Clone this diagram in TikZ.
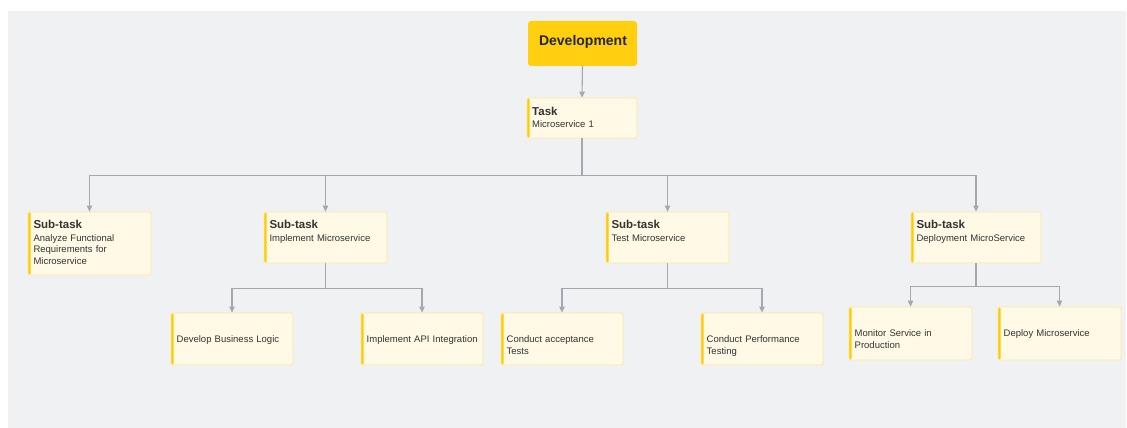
\documentclass[tikz,border=0pt]{standalone}
\usepackage{fontspec}
\setmainfont{Liberation Sans}
\usetikzlibrary{arrows.meta}

\definecolor{pagebg}{HTML}{F0F1F3}
\definecolor{gold}{HTML}{FFCF10}
\definecolor{cardfill}{HTML}{FFF9E6}
\definecolor{cardedge}{HTML}{FBE7A1}
\definecolor{cardbar}{HTML}{FFCC00}
\definecolor{wire}{HTML}{A4A8B1}
\definecolor{ink}{HTML}{333333}

\tikzset{
  card/.style={draw=cardedge, fill=cardfill, line width=0.8pt, rounded corners=1.5pt,
    inner sep=0pt,
    path picture={\fill[cardbar] (path picture bounding box.north west)
      rectangle ([xshift=2.6pt]path picture bounding box.south west);}},
  headcard/.style={fill=gold, rounded corners=3pt, inner sep=0pt},
  ttl/.style={anchor=base west, inner sep=0pt, text=ink,
    font=\fontsize{11.5}{13}\selectfont\bfseries},
  body/.style={anchor=base west, inner sep=0pt, text=ink, align=left,
    text width=120pt, font=\fontsize{9.5}{11.7}\selectfont},
  conn/.style={draw=wire, line width=1.1pt,
    -{Triangle[width=5.5pt,length=6pt]}},
  link/.style={draw=wire, line width=1.1pt},
}

% box from (x1,y1) to (x2,y2), y measured downwards
\newcommand\cardat[6][card]{%
  \node[#1, minimum width={(#5-#3)*1pt}, minimum height={(#6-#4)*1pt}]
    (#2) at ({(#3+#5)/2},{(#4+#6)/2}) {};}

\begin{document}
\begin{tikzpicture}[x=1pt, y=-1pt]
  \useasboundingbox (0,0) rectangle (1127,428);
  \fill[pagebg] (8,11) rectangle (1126,428);

  % boxes
  \cardat[headcard]{dev}{528}{21}{637}{66}
  \cardat{task}{527}{98}{637}{138}
  \cardat{s1}{28}{212}{151}{275}
  \cardat{s2}{264}{212}{387}{263}
  \cardat{s3}{606}{212}{729}{263}
  \cardat{s4}{911}{212}{1041}{263}
  \cardat{l1}{171}{313}{293}{365}
  \cardat{l2}{361}{313}{483}{365}
  \cardat{l3}{501}{313}{623}{365}
  \cardat{l4}{701}{313}{823}{365}
  \cardat{l5}{849}{307}{972}{360}
  \cardat{l6}{998}{307}{1121}{360}

  % labels
  \node[anchor=base, inner sep=0pt, text=black!85,
        font=\fontsize{14}{16}\selectfont\bfseries] (devtxt) at (583,46) {Development};

  \node[ttl] (taskt) at (532,115) {Task};
  \node[body] (taskb) at (532,127.4) {Microservice 1};

  \node[ttl] (s1t) at (33.3,228.8) {Sub-task};
  \node[body] (s1b) at (33.3,241) {Analyze Functional\\Requirements for\\Microservice};
  \node[ttl] (s2t) at (269.3,228.8) {Sub-task};
  \node[body] (s2b) at (269.3,241) {Implement Microservice};
  \node[ttl] (s3t) at (611.3,228.8) {Sub-task};
  \node[body] (s3b) at (611.3,241) {Test Microservice};
  \node[ttl] (s4t) at (916.3,228.8) {Sub-task};
  \node[body] (s4b) at (916.3,241) {Deployment MicroService};

  \node[body] (l1b) at (176.5,342.6) {Develop Business Logic};
  \node[body] (l2b) at (366.5,342.6) {Implement API Integration};
  \node[body] (l3b) at (506.5,342.6) {Conduct acceptance\\Tests};
  \node[body] (l4b) at (706.5,342.6) {Conduct Performance\\Testing};
  \node[body] (l5b) at (854.5,336.7) {Monitor Service in\\Production};
  \node[body] (l6b) at (1003.5,336.7) {Deploy Microservice};

  % connectors
  \draw[conn] (dev.south) -- (task.north);

  \draw[link] (task.south) -- ++(0,37) coordinate (tj);
  \draw[conn] (tj) -| (s1.north);
  \draw[conn] (tj) -| (s2.north);
  \draw[conn] (tj) -| (s3.north);
  \draw[conn] (tj) -| (s4.north);

  \draw[link] (s2.south) -- ++(0,25) coordinate (j2);
  \draw[conn] (j2) -| (l1.north);
  \draw[conn] (j2) -| (l2.north);

  \draw[link] (s3.south) -- ++(0,25) coordinate (j3);
  \draw[conn] (j3) -| (l3.north);
  \draw[conn] (j3) -| (l4.north);

  \draw[link] (s4.south) -- ++(0,23) coordinate (j4);
  \draw[conn] (j4) -| (l5.north);
  \draw[conn] (j4) -| (l6.north);
\end{tikzpicture}
\end{document}
